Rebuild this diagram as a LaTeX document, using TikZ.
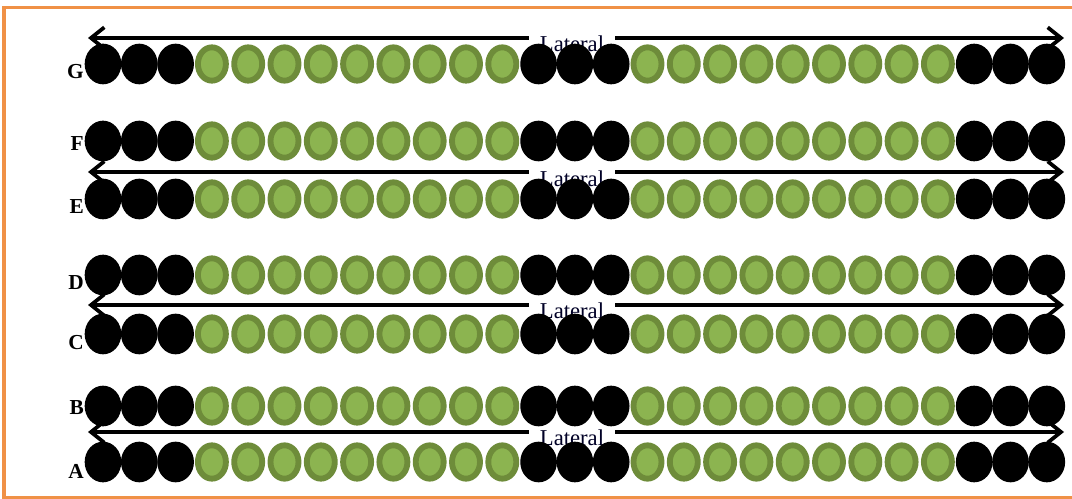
\documentclass[tikz,border=0pt]{standalone}
\usepackage{fontspec}
\setmainfont{Liberation Serif}
\usetikzlibrary{shapes.geometric, arrows.meta, positioning}
\definecolor{leafdark}{HTML}{6E8C3A}
\definecolor{leaflight}{HTML}{8CB450}
\definecolor{frameorange}{HTML}{F09146}

\begin{document}
\begin{tikzpicture}[
    x=0.75pt, y=-0.75pt,
    tree/.style={ellipse, inner sep=0pt},
    blacktree/.style={tree, fill=black, minimum width=27.5pt, minimum height=30.5pt},
    greentree/.style={tree, fill=leaflight, draw=leafdark, line width=4.4pt,
        minimum width=21pt, minimum height=25pt},
    rowlabel/.style={font=\bfseries\fontsize{16}{16}\selectfont, inner sep=0pt, anchor=east},
    lateral/.style={{Straight Barb[length=10pt,width=16pt]}-{Straight Barb[length=10pt,width=16pt]},
        line width=2.8pt},
    latlabel/.style={fill=white, inner xsep=8pt, inner ysep=1pt,
        font=\fontsize{17}{17}\selectfont, text=black!85!blue}
]
\useasboundingbox (0,0) rectangle (1072,499);
\draw[frameorange, line width=2.3pt] (4,7.5) rectangle (1080,497.5);

% lateral arrows between the rows
\foreach \k/\yarr/\ytxt in {1/38/44, 2/172/179, 3/305/311, 4/432/438} {
    \coordinate (latL\k) at (88,\yarr);
    \coordinate (latR\k) at (1064,\yarr);
    \draw[lateral] (latL\k) -- (latR\k);
    \node[latlabel] (lat\k) at (572,\ytxt) {Lateral};
}

% rows of trees
\foreach \row/\ypos/\ylab in {G/64/72, F/141/144, E/199/207, D/275/283, C/334/343, B/406/408, A/462/471} {
    \node[rowlabel] (lab\row) at (84,\ylab) {\row};
    \foreach \i in {0,...,26} {
        \pgfmathtruncatemacro{\isblack}{(\i<3) || (\i>11 && \i<15) || (\i>23)}
        \pgfmathsetmacro{\xpos}{103+36.3*\i}
        \ifnum\isblack=1
            \node[blacktree] (\row-\i) at (\xpos,\ypos) {};
        \else
            \node[greentree] (\row-\i) at (\xpos,\ypos) {};
        \fi
    }
}
\end{tikzpicture}
\end{document}
